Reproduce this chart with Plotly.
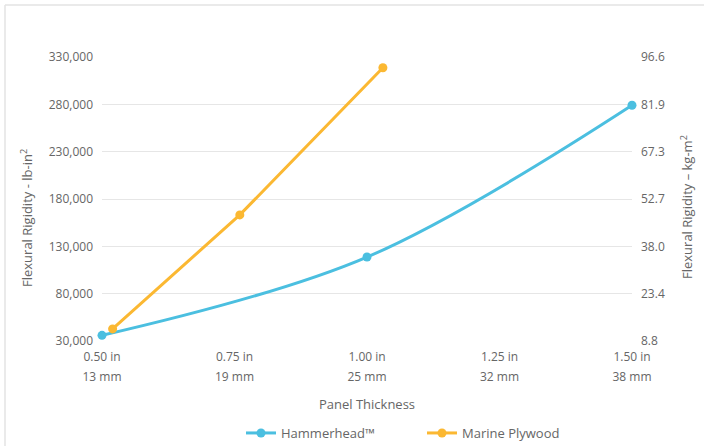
import plotly.graph_objects as go

# ---- data ----
hammer_x = [0.5, 1.0, 1.5]
hammer_y = [36000, 118700, 279000]
marine_x = [0.52, 0.76, 1.03]
marine_y = [42800, 163200, 318700]

x_tick_vals = [0.5, 0.75, 1.0, 1.25, 1.5]
x_tick_in = ["0.50 in", "0.75 in", "1.00 in", "1.25 in", "1.50 in"]
x_tick_mm = ["13 mm", "19 mm", "25 mm", "32 mm", "38 mm"]

y_left_ticks = [30000, 80000, 130000, 180000, 230000, 280000, 330000]
y_right_labels = ["8.8", "23.4", "38.0", "52.7", "67.3", "81.9", "96.6"]
LBIN2_TO_KGM2 = 0.00029264

HAMMER_COLOR = "#4BBFE0"
MARINE_COLOR = "#FBB832"
TXT = "#666666"
FONT = "Open Sans"

fig = go.Figure()
fig.add_trace(go.Scatter(
    x=hammer_x, y=hammer_y, name="Hammerhead™", mode="lines+markers",
    line=dict(color=HAMMER_COLOR, width=3, shape="spline", smoothing=1.0),
    marker=dict(size=9, color=HAMMER_COLOR), cliponaxis=False))
fig.add_trace(go.Scatter(
    x=marine_x, y=marine_y, name="Marine Plywood", mode="lines+markers",
    line=dict(color=MARINE_COLOR, width=3),
    marker=dict(size=9, color=MARINE_COLOR), cliponaxis=False))
# invisible trace to activate the secondary axes
fig.add_trace(go.Scatter(x=[None], y=[None], xaxis="x2", yaxis="y2",
                         showlegend=False, hoverinfo="skip"))

y_lo, y_hi = y_left_ticks[0], y_left_ticks[-1]

# pixel <-> paper helpers (plot area: x 102..632, y 57..341)
px_x0, px_w = 102, 530
px_y1, px_h = 341, 284
def paper_x(px):
    return (px - px_x0) / px_w
def paper_y(py):
    return (px_y1 - py) / px_h

fig.update_layout(
    width=704, height=446,
    margin=dict(l=102, r=72, t=57, b=105, autoexpand=False),
    paper_bgcolor="white", plot_bgcolor="white",
    font=dict(family=FONT, size=12, color=TXT),
    showlegend=True,
    legend=dict(orientation="h", x=paper_x(241), xanchor="left",
                yref="container", y=13 / 446, yanchor="middle",
                font=dict(size=13, color=TXT),
                itemwidth=30, traceorder="normal",
                entrywidth=136, entrywidthmode="pixels"),
    xaxis=dict(range=[0.5, 1.5], tickvals=x_tick_vals, ticktext=x_tick_in,
               showgrid=False, zeroline=False, showline=False,
               ticks="", ticklabelstandoff=7, automargin=False),
    xaxis2=dict(range=[0.5, 1.5], tickvals=x_tick_vals, ticktext=x_tick_mm,
                overlaying="x", side="bottom", anchor="y",
                showgrid=False, zeroline=False, showline=False,
                ticks="", ticklabelstandoff=27, automargin=False,
                title=dict(text="Panel Thickness", font=dict(size=13, color=TXT),
                           standoff=15)),
    yaxis=dict(range=[y_lo, y_hi], tickvals=y_left_ticks,
               tickformat=",d", showgrid=True, gridcolor="#E6E6E6",
               gridwidth=1, zeroline=False, showline=False,
               ticks="", ticklabelstandoff=8, automargin=False),
    yaxis2=dict(range=[y_lo * LBIN2_TO_KGM2, y_hi * LBIN2_TO_KGM2],
                tickvals=[v * LBIN2_TO_KGM2 for v in y_left_ticks],
                ticktext=y_right_labels,
                overlaying="y", side="right", anchor="x",
                showgrid=False, zeroline=False, showline=False,
                ticks="", ticklabelstandoff=8, automargin=False),
)

# axis titles as rotated annotations (positioned like the reference)
fig.add_annotation(text="Flexural Rigidity - lb-in<sup>2</sup>",
                   xref="paper", yref="paper", x=paper_x(26), y=paper_y(218),
                   xanchor="center", yanchor="middle",
                   textangle=-90, showarrow=False,
                   font=dict(size=13, color=TXT))
fig.add_annotation(text="Flexural Rigidity – kg-m<sup>2</sup>",
                   xref="paper", yref="paper", x=paper_x(686), y=paper_y(207),
                   xanchor="center", yanchor="middle",
                   textangle=-90, showarrow=False,
                   font=dict(size=13, color=TXT))

# light frame lines (container border) at top and left
fig.add_shape(type="line", xref="paper", yref="paper",
              x0=paper_x(5), x1=paper_x(704), y0=paper_y(5), y1=paper_y(5),
              line=dict(color="#E3E3E3", width=1.5))
fig.add_shape(type="line", xref="paper", yref="paper",
              x0=paper_x(5), x1=paper_x(5), y0=paper_y(5), y1=paper_y(446),
              line=dict(color="#E3E3E3", width=1.5))

fig.write_html("out.html",
               config={"displayModeBar": False},
               post_script="document.body.style.margin='0';"
                           "document.body.style.overflow='hidden';")
